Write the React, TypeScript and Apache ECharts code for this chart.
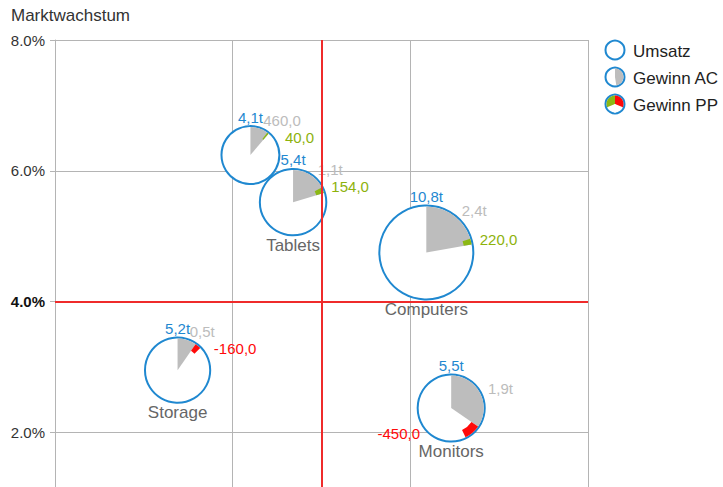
import React, { useEffect, useRef } from 'react';
import * as echarts from 'echarts';

// ---- data ----
const names = ['', 'Tablets', 'Computers', 'Storage', 'Monitors'];
const marketShare = [1.1, 1.34, 2.09, 0.69, 2.23]; // x position (relative units)
const marketGrowth = [6.24, 5.52, 4.75, 2.95, 2.37]; // %
const umsatz = [4.1, 5.4, 10.8, 5.2, 5.5]; // t
const gewinnAC = [0.46, 1.1, 2.4, 0.5, 1.9]; // t
const gewinnDelta = [40, 154, 220, -160, -450]; // AC - PP (thousands)
const acLabels = ['460,0', '1,1t', '2,4t', '0,5t', '1,9t'];
const yTicks = [0, 2, 4, 6, 8];
const xMean = 1.5;
const yMean = 4;
const legendItems = ['Umsatz', 'Gewinn AC', 'Gewinn PP'];

// ---- style ----
const BLUE = '#1f88d0';
const GRAY = '#bdbdbd';
const GRAY_TXT = '#bcbcbc';
const GREEN = '#8cb814';
const GREEN_TXT = '#8db20c';
const RED = '#ff0a0a';
const RED_LINE = '#ef2b2b';
const FONT = '"Liberation Sans", Arial, sans-serif';
const R_SCALE = 14.3;

const fmt = (v: number) => v.toFixed(1).replace('.', ',');

export default function App() {
  const ref = useRef<HTMLDivElement>(null);
  useEffect(() => {
    if (!ref.current) return;
    const chart = echarts.init(ref.current, undefined, { renderer: 'svg' });
    const data = names.map((n, i) => [marketShare[i], marketGrowth[i], umsatz[i], gewinnAC[i], gewinnDelta[i]]);

    const renderItem = (params: any, api: any) => {
      const i = params.dataIndex;
      const c = api.coord([api.value(0), api.value(1)]);
      const cx = c[0], cy = c[1];
      const U = api.value(2), AC = api.value(3), D = api.value(4);
      const PP = AC - D / 1000;
      const r = R_SCALE * Math.sqrt(U);
      const top = -Math.PI / 2;
      const aAC = top + (2 * Math.PI * AC) / U;
      const aPP = top + (2 * Math.PI * PP) / U;
      const children: any[] = [];
      children.push({ type: 'circle', shape: { cx, cy, r }, style: { fill: '#fff', stroke: BLUE, lineWidth: 2 } });
      children.push({
        type: 'sector',
        shape: { cx, cy, r0: 0, r: r - 1, startAngle: top, endAngle: aAC, clockwise: true },
        style: { fill: GRAY },
      });
      children.push({
        type: 'sector',
        shape: { cx, cy, r0: r - 9, r: r - 1, startAngle: Math.min(aAC, aPP), endAngle: Math.max(aAC, aPP), clockwise: true },
        style: { fill: D >= 0 ? GREEN : RED },
      });
      // Umsatz label
      children.push({
        type: 'text', x: cx, y: cy - r - 9,
        style: { text: fmt(U) + 't', fill: BLUE, fontSize: 15, fontFamily: FONT, align: 'center', verticalAlign: 'middle' },
      });
      // AC label
      const d = r + 8;
      const tg = (Math.PI * AC) / U;
      const xg = cx + Math.sin(tg) * d, yg = cy - Math.cos(tg) * d;
      children.push({
        type: 'text', x: xg, y: yg,
        style: { text: acLabels[i], fill: GRAY_TXT, fontSize: 15, fontFamily: FONT, align: 'left', verticalAlign: 'middle' },
      });
      // delta label
      const td = (Math.PI * (AC + PP)) / U;
      let xd = cx + Math.sin(td) * d, yd = cy - Math.cos(td) * d;
      let align = 'left';
      if (Math.abs(yd - yg) < 16) {
        yd = yg + 17;
        xd = cx + Math.sqrt(Math.max(d * d - (yd - cy) * (yd - cy), 0)) + 2;
      }
      if (yd + 8 > cy + r + 2) {
        xd = 2 * cx - xd - 4;
        yd -= 6;
        align = 'right';
      }
      children.push({
        type: 'text', x: xd, y: yd,
        style: { text: fmt(D), fill: D >= 0 ? GREEN_TXT : RED, fontSize: 15, fontFamily: FONT, align, verticalAlign: 'middle' },
      });
      if (names[i]) {
        children.push({
          type: 'text', x: cx, y: cy + r + 10,
          style: { text: names[i], fill: '#666', fontSize: 17, fontFamily: FONT, align: 'center', verticalAlign: 'middle' },
        });
      }
      return { type: 'group', children };
    };

    const legendY = [50, 77, 104];
    const lx = 615;
    const ly = legendY[2];
    const legendGraphics: any[] = [
      { type: 'circle', shape: { cx: lx, cy: legendY[0], r: 9.5 }, style: { fill: '#fff', stroke: BLUE, lineWidth: 2 } },
      { type: 'circle', shape: { cx: lx, cy: legendY[1], r: 9.5 }, style: { fill: '#fff', stroke: BLUE, lineWidth: 2 } },
      { type: 'sector', shape: { cx: lx, cy: legendY[1], r0: 0, r: 8.5, startAngle: -Math.PI / 2, endAngle: Math.PI * 0.45, clockwise: true }, style: { fill: GRAY } },
      { type: 'circle', shape: { cx: lx, cy: ly, r: 9.5 }, style: { fill: '#fff', stroke: BLUE, lineWidth: 2 } },
      { type: 'sector', shape: { cx: lx, cy: ly, r0: 0, r: 8.5, startAngle: Math.PI * 0.88, endAngle: Math.PI * 1.5, clockwise: true }, style: { fill: GREEN } },
      { type: 'sector', shape: { cx: lx, cy: ly, r0: 0, r: 8.5, startAngle: Math.PI * 1.5, endAngle: Math.PI * 2.12, clockwise: true }, style: { fill: RED } },
      { type: 'polygon', shape: { points: [[lx - 5, ly + 4], [lx - 1.5, ly + 1.5], [lx, ly], [lx + 1.5, ly + 1.5], [lx + 5, ly + 4], [lx, ly + 9]] }, style: { fill: '#fff' } },
      ...legendItems.map((t, k) => ({
        type: 'text', x: 633, y: legendY[k] + 1,
        style: { text: t, fill: '#222', fontSize: 17, fontFamily: FONT, align: 'left', verticalAlign: 'middle' },
      })),
      {
        type: 'text', x: 11, y: 15,
        style: { text: 'Marktwachstum', fill: '#333', fontSize: 17, fontFamily: FONT, align: 'left', verticalAlign: 'middle' },
      },
    ];

    chart.setOption({
      animation: false,
      grid: { left: 55, right: 135, top: 40, bottom: 0, containLabel: false },
      xAxis: {
        type: 'value', min: 0, max: 3, interval: 1,
        axisLine: { show: false }, axisTick: { show: false }, axisLabel: { show: false },
        splitLine: { show: true, lineStyle: { color: '#b4b4b4', width: 1 } },
      },
      yAxis: {
        type: 'value', min: yTicks[0], max: yTicks[yTicks.length - 1], interval: 2,
        axisLine: { show: true, lineStyle: { color: '#b4b4b4' } },
        axisTick: { show: true, length: 5, lineStyle: { color: '#b4b4b4' } },
        splitLine: { show: true, lineStyle: { color: '#b4b4b4', width: 1 } },
        axisLabel: {
          margin: 10,
          fontSize: 15, fontFamily: FONT, color: '#333',
          formatter: (v: number) => (v === 0 ? '' : v === yMean ? `{b|${v.toFixed(1)}%}` : `${v.toFixed(1)}%`),
          rich: { b: { fontSize: 15, fontFamily: FONT, fontWeight: 'bold', color: '#111' } },
        },
      },
      series: [
        {
          type: 'custom',
          renderItem,
          data,
          encode: { x: 0, y: 1 },
          z: 2,
          silent: true,
        },
        {
          type: 'line',
          data: [[xMean, yMean]],
          symbol: 'none',
          lineStyle: { opacity: 0 },
          z: 10,
          silent: true,
          markLine: {
            silent: true,
            symbol: ['none', 'none'],
            label: { show: false },
            lineStyle: { color: RED_LINE, width: 2, type: 'solid' },
            data: [{ xAxis: xMean }, { yAxis: yMean }],
          },
        },
      ],
      graphic: legendGraphics,
    });
    return () => chart.dispose();
  }, []);
  return (
    <div style={{ position: 'fixed', left: 0, top: 0, width: 723, height: 487, overflow: 'hidden', background: '#fff' }}>
      <div ref={ref} style={{ width: 723, height: 563 }} />
    </div>
  );
}
